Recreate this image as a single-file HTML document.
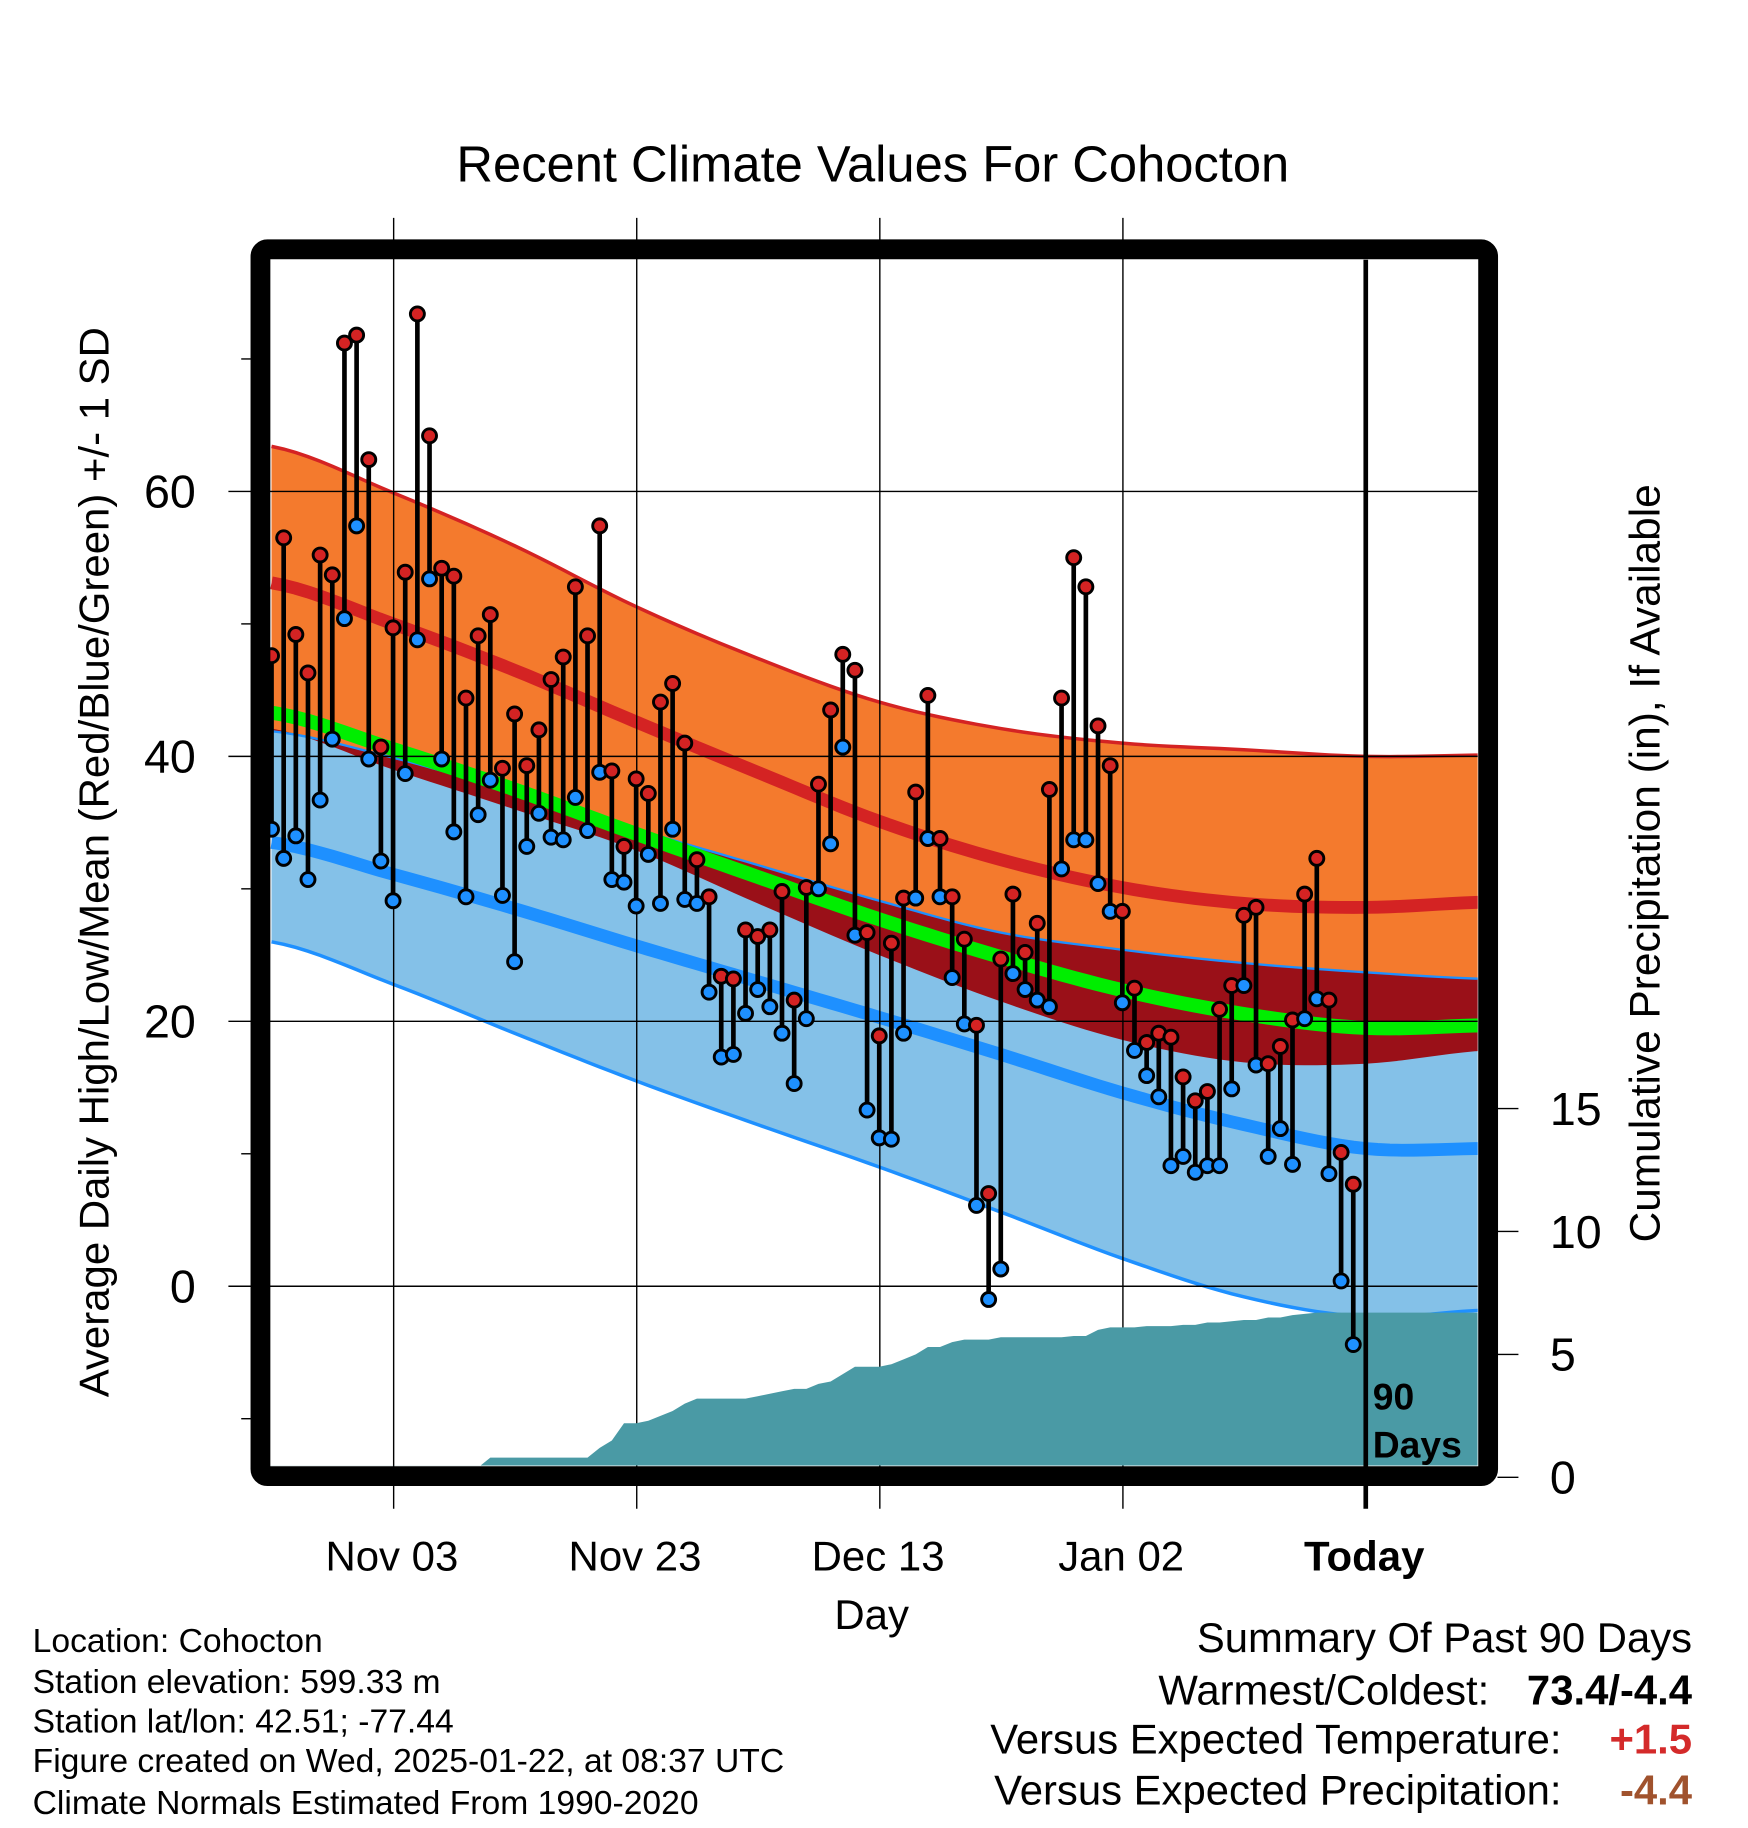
<!DOCTYPE html>
<html><head><meta charset="utf-8">
<style>
html,body{margin:0;padding:0;background:#fff}
svg{display:block}
text{font-family:"Liberation Sans",Arial,sans-serif}
</style></head>
<body>
<svg id="chart" width="1748" height="1828" viewBox="0 0 1500 1569" preserveAspectRatio="none" xmlns="http://www.w3.org/2000/svg">
<g id="bands"></g>
<g id="grid"></g>
<g id="precip"></g>
<g id="marks"></g>
<g id="axes"></g>
<text x="749" y="156" font-size="43.5" text-anchor="middle">Recent Climate Values For Cohocton</text>
<text transform="translate(93,740) rotate(-90)" font-size="36" text-anchor="middle">Average Daily High/Low/Mean (Red/Blue/Green) +/- 1 SD</text>
<text transform="translate(1424,741) rotate(-90)" font-size="36.4" text-anchor="middle">Cumulative Precipitation (in), If Available</text>
<text x="748" y="1398" font-size="36" text-anchor="middle">Day</text>
<g font-size="28.9">
<text x="28" y="1418">Location: Cohocton</text>
<text x="28" y="1453">Station elevation: 599.33 m</text>
<text x="28" y="1487">Station lat/lon: 42.51; -77.44</text>
<text x="28" y="1521">Figure created on Wed, 2025-01-22, at 08:37 UTC</text>
<text x="28" y="1557">Climate Normals Estimated From 1990-2020</text>
</g>
<g font-size="35.9">
<text x="1452" y="1418" text-anchor="end">Summary Of Past 90 Days</text>
<text x="1278" y="1463" text-anchor="end">Warmest/Coldest:</text>
<text x="1452" y="1463" text-anchor="end" font-weight="bold">73.4/-4.4</text>
<text x="1340" y="1505" text-anchor="end">Versus Expected Temperature:</text>
<text x="1452" y="1505" text-anchor="end" font-weight="bold" fill="#d42a2a">+1.5</text>
<text x="1340" y="1549" text-anchor="end">Versus Expected Precipitation:</text>
<text x="1452" y="1549" text-anchor="end" font-weight="bold" fill="#a0522d">-4.4</text>
</g>
</svg>
<script>
const highs=[47.6,56.5,49.2,46.3,55.2,53.7,71.2,71.8,62.4,40.7,49.7,53.9,73.4,64.2,54.2,53.6,44.4,49.1,50.7,39.1,43.2,39.3,42.0,45.8,47.5,52.8,49.1,57.4,38.9,33.2,38.3,37.2,44.1,45.5,41.0,32.2,29.4,23.4,23.2,26.9,26.4,26.9,29.8,21.6,30.1,37.9,43.5,47.7,46.5,26.7,18.9,25.9,29.3,37.3,44.6,33.8,29.4,26.2,19.7,7.0,24.7,29.6,25.2,27.4,37.5,44.4,55.0,52.8,42.3,39.3,28.3,22.5,18.4,19.1,18.8,15.8,14.0,14.7,20.9,22.7,28.0,28.6,16.8,18.1,20.1,29.6,32.3,21.6,10.1,7.7];
const lows=[34.5,32.3,34.0,30.7,36.7,41.3,50.4,57.4,39.8,32.1,29.1,38.7,48.8,53.4,39.8,34.3,29.4,35.6,38.2,29.5,24.5,33.2,35.7,33.9,33.7,36.9,34.4,38.8,30.7,30.5,28.7,32.6,28.9,34.5,29.2,28.9,22.2,17.3,17.5,20.6,22.4,21.1,19.1,15.3,20.2,30.0,33.4,40.7,26.5,13.3,11.2,11.1,19.1,29.3,33.8,29.4,23.3,19.8,6.1,-1.0,1.3,23.6,22.4,21.6,21.1,31.5,33.7,33.7,30.4,28.3,21.4,17.8,15.9,14.3,9.1,9.8,8.6,9.1,9.1,14.9,22.7,16.7,9.8,11.9,9.2,20.2,21.7,8.5,0.4,-4.4];
const precip=[0,0,0,0,0,0,0,0,0,0,0,0,0,0,0,0,0,0.4,0.8,0.8,0.8,0.8,0.8,0.8,0.8,0.8,0.8,1.2,1.5,2.2,2.2,2.3,2.5,2.7,3.0,3.2,3.2,3.2,3.2,3.2,3.3,3.4,3.5,3.6,3.6,3.8,3.9,4.2,4.5,4.5,4.5,4.6,4.8,5.0,5.3,5.3,5.5,5.6,5.6,5.6,5.7,5.7,5.7,5.7,5.7,5.7,5.75,5.75,6.0,6.1,6.1,6.1,6.15,6.15,6.15,6.2,6.2,6.3,6.3,6.35,6.4,6.4,6.5,6.5,6.6,6.65,6.7,6.7,6.7,6.7];
const normDays=[0,10,20,30,40,50,60,70,80,90,100];
const normHighPlusSD=[63.4,59.9,55.9,51.3,47.4,44.1,42.1,41.0,40.5,40.0,40.1];
const normHigh=[53.1,50.0,46.5,42.6,38.8,35.1,32.2,30.1,28.9,28.6,29.0];
const normHighMinusSD=[42.1,39.0,36.0,32.9,28.9,25.0,21.5,18.6,16.9,16.8,17.8];
const normLowPlusSD=[41.9,39.9,37.3,34.5,31.8,29.1,26.7,25.4,24.4,23.7,23.2];
const normLow=[33.5,31.1,28.5,25.7,23.0,20.3,17.5,14.6,12.2,10.4,10.4];
const normLowMinusSD=[26.0,22.8,19.1,15.5,12.2,9.0,5.6,2.1,-0.8,-2.3,-1.8];
const tempTicks=[0,20,40,60];
const tempMinor=[-10,10,30,50,70];
const precipTicks=[0,5,10,15];
const dateTicks=["Nov 03","Nov 23","Dec 13","Jan 02","Today"];
const dateTickDays=[10,30,50,70,90];

const NS="http://www.w3.org/2000/svg";
const L=232,R=1268,T=223,B=1258;
const xDay=d=>233+10.43*d;
const yT=t=>1104-11.37*t;
const yP=p=>1268-21.1*p;
function mk(tag,attrs,parent){const e=document.createElementNS(NS,tag);for(const k in attrs)e.setAttribute(k,attrs[k]);parent.appendChild(e);return e;}
function smooth(arr){
  const pts=[];
  for(let i=0;i<arr.length-1;i++){
    const p0=arr[Math.max(0,i-1)],p1=arr[i],p2=arr[i+1],p3=arr[Math.min(arr.length-1,i+2)];
    for(let s=0;s<10;s++){const t=s/10,t2=t*t,t3=t2*t;
      const v=0.5*((2*p1)+(-p0+p2)*t+(2*p0-5*p1+4*p2-p3)*t2+(-p0+3*p1-3*p2+p3)*t3);
      pts.push([xDay(normDays[i]+(normDays[i+1]-normDays[i])*t),yT(v)]);}
  }
  pts.push([xDay(normDays[normDays.length-1]),yT(arr[arr.length-1])]);
  return pts;
}
const bands=document.getElementById('bands');
const clip=mk('clipPath',{id:'pc'},mk('defs',{},document.getElementById('chart')));
mk('rect',{x:L,y:T,width:R-L,height:B-T},clip);
bands.setAttribute('clip-path','url(#pc)');
function area(top,bot,fill,name){
  const a=smooth(top),b=smooth(bot).reverse();
  const el=mk('path',{d:'M'+a.map(p=>p.join(',')).join('L')+'L'+b.map(p=>p.join(',')).join('L')+'Z',fill:fill},bands);
  
  
}
function line(arr,col,w,name){
  const a=smooth(arr);
  const el=mk('path',{d:'M'+a.map(p=>p.join(',')).join('L'),fill:'none',stroke:col,'stroke-width':w},bands);
  
  
}
area(normLowPlusSD,normLowMinusSD,'#84c1e8','low-sd-band');
area(normHighPlusSD,normLowPlusSD,'#f47a2d','high-sd-band');
area(normLowPlusSD,normHighMinusSD,'#9a1018','overlap-band');
line(normHighPlusSD,'#d42323',3,'high-plus-sd-line');
line(normLowMinusSD,'#1e90ff',3,'low-minus-sd-line');
line(normLowPlusSD,'#1e90ff',2,'low-plus-sd-line');
line(normHigh,'#d42323',11,'mean-high-line');
line(normLow,'#1e90ff',11,'mean-low-line');
line(normHigh.map((h,i)=>(h+normLow[i])/2),'#00ee00',12,'mean-line');

const grid=document.getElementById('grid');
tempTicks.forEach(t=>{const el=mk('line',{x1:196,x2:R,y1:yT(t),y2:yT(t),stroke:'#000','stroke-width':1.2},grid);

});
dateTickDays.forEach((d,i)=>{if(i==4)return;const el=mk('line',{x1:xDay(d)+0.5,x2:xDay(d)+0.5,y1:187,y2:1295,stroke:'#000','stroke-width':1.2},grid);

});

const pg=document.getElementById('precip');
let pd='M'+xDay(0)+','+yP(0);
precip.forEach((p,i)=>{pd+='L'+xDay(i)+','+yP(p);});
pd+='L'+R+','+yP(precip[precip.length-1])+'L'+R+','+B+'L'+L+','+B+'Z';
const pa=mk('path',{d:pd,fill:'#4a9aa5'},pg);


pg.setAttribute('clip-path','url(#pc)');

const mg=document.getElementById('marks');
highs.forEach((h,i)=>{
  const x=xDay(i);
  const s=mk('line',{x1:x,x2:x,y1:yT(h),y2:yT(lows[i]),stroke:'#000','stroke-width':4},mg);
  
  
  const c1=mk('circle',{cx:x,cy:yT(lows[i]),r:6,fill:'#1e90ff',stroke:'#000','stroke-width':2.5},mg);
  
  
  const c2=mk('circle',{cx:x,cy:yT(h),r:6,fill:'#d42323',stroke:'#000','stroke-width':2.5},mg);
  
  
});

const ax=document.getElementById('axes');
const fr=mk('rect',{x:223.5,y:214,width:1053.5,height:1053,rx:6,fill:'none',stroke:'#000','stroke-width':17},ax);


const td=mk('line',{x1:1172,x2:1172,y1:T,y2:1295,stroke:'#000','stroke-width':4},ax);


tempTicks.forEach(t=>{
  const tx=mk('text',{x:168,y:yT(t)+14,'font-size':40,'text-anchor':'end'},ax);tx.textContent=t;
  
  
});
tempMinor.forEach(t=>{const el=mk('line',{x1:207,x2:215,y1:yT(t),y2:yT(t),stroke:'#000','stroke-width':1.2},ax);

});
precipTicks.forEach(p=>{
  const l=mk('line',{x1:1285,x2:1303,y1:yP(p),y2:yP(p),stroke:'#000','stroke-width':1.2},ax);
  
  
  const tx=mk('text',{x:1330,y:yP(p)+14,'font-size':40},ax);tx.textContent=p;
  
  
});
dateTicks.forEach((lab,i)=>{
  const tx=mk('text',{x:xDay(dateTickDays[i])-1,y:1348,'font-size':36,'text-anchor':'middle','font-weight':i==4?'bold':'normal'},ax);tx.textContent=lab;
  
  
});
const d1=mk('text',{x:1178,y:1210,'font-size':32,'font-weight':'bold'},ax);d1.textContent='90';


const d2=mk('text',{x:1178,y:1251,'font-size':32,'font-weight':'bold'},ax);d2.textContent='Days';


</script>
</body></html>
